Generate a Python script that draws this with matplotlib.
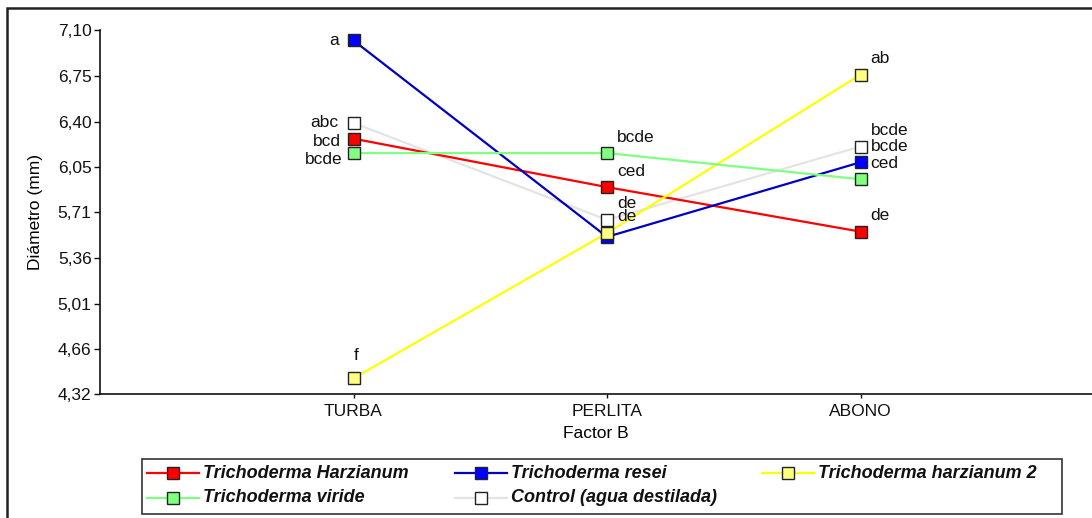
import matplotlib
matplotlib.use("Agg")
import matplotlib.pyplot as plt
from matplotlib.patches import Rectangle
from matplotlib.lines import Line2D

plt.rcParams['font.family'] = ['Liberation Sans', 'DejaVu Sans']

categories = ["TURBA", "PERLITA", "ABONO"]
series_names = ["Trichoderma Harzianum", "Trichoderma resei", "Trichoderma harzianum 2",
                "Trichoderma viride", "Control (agua destilada)"]
harzianum = [6.27, 5.90, 5.56]
resei = [7.02, 5.52, 6.09]
harzianum2 = [4.44, 5.55, 6.76]
viride = [6.16, 6.16, 5.96]
control = [6.39, 5.65, 6.21]
letters_harzianum = ["bcd", "ced", "de"]
letters_resei = ["a", "", "bcde"]
letters_harzianum2 = ["f", "de", "ab"]
letters_viride = ["bcde", "bcde", "ced"]
letters_control = ["abc", "de", "bcde"]
yticks = [4.32, 4.66, 5.01, 5.36, 5.71, 6.05, 6.40, 6.75, 7.10]
xlabel = "Factor B"
ylabel = "Diámetro (mm)"

values = [harzianum, resei, harzianum2, viride, control]
letters = [letters_harzianum, letters_resei, letters_harzianum2, letters_viride, letters_control]
line_colors = ["#FF0000", "#0000C0", "#FFFF00", "#80FF80", "#E4E4E4"]
face_colors = ["#FF0000", "#0000FF", "#FFFF80", "#80FF80", "#FFFFFF"]
# pixel offsets for TURBA labels (left side), per series
turba_off = [(-13, -3, 'right'), (-15, 0, 'right'), (3, 23, 'center'), (-11, -6, 'right'), (-15, 0, 'right')]

FS = 12.5
W, H = 1092, 518
fig = plt.figure(figsize=(W / 100, H / 100), dpi=100)
ax = fig.add_axes([100 / W, 1 - 394 / H, 1 - 100 / W, 364 / H])
x = list(range(1, len(categories) + 1))
for i in range(len(values)):
    ax.plot(x, values[i], color=line_colors[i], lw=1.6, marker='s', markersize=9,
            markerfacecolor=face_colors[i], markeredgecolor='#222222', markeredgewidth=1.0,
            zorder=3 + i * 0.1, clip_on=False)
ax.lines[4].set_zorder(2.5)

px = 0.72
for i in range(len(values)):
    for j in range(len(categories)):
        lab = letters[i][j]
        if not lab:
            continue
        if j == 0:
            dx, dy, ha = turba_off[i]
        else:
            dx, dy, ha = 10, 16, 'left'
        ax.annotate(lab, (x[j], values[i][j]), xytext=(dx * px, dy * px), textcoords='offset points',
                    ha=ha, va='center', fontsize=FS, color='#111111', zorder=6)

ax.set_xlim(0, (W - 100) / 253.5)
ax.set_ylim(yticks[0], yticks[-1])
ax.set_yticks(yticks)
ax.set_yticklabels([f"{v:.2f}".replace('.', ',') for v in yticks], fontsize=FS)
ax.set_xticks(x)
ax.set_xticklabels(categories, fontsize=FS)
ax.tick_params(axis='both', direction='out', length=4, width=1, colors='#111111', pad=2)
ax.tick_params(axis='x', length=3, pad=4)
for s in ['top', 'right']:
    ax.spines[s].set_visible(False)
for s in ['left', 'bottom']:
    ax.spines[s].set_linewidth(1.2)
    ax.spines[s].set_color('#111111')
ax.set_xlabel(xlabel, fontsize=FS, labelpad=5)
ax.set_ylabel(ylabel, fontsize=FS, labelpad=11)

# outer frame
fig.add_artist(Rectangle((7 / W, -0.1), 1.2, 1 - 8 / H + 0.1, transform=fig.transFigure,
                         fill=False, edgecolor='#222222', lw=1.8))

# legend box
lx0, lx1, ly0, ly1 = 142, 1062, 459, 514
fig.add_artist(Rectangle((lx0 / W, 1 - ly1 / H), (lx1 - lx0) / W, (ly1 - ly0) / H,
                         transform=fig.transFigure, fill=False, edgecolor='#333333', lw=1.2))
leg_pos = [(147, 473), (455, 473), (762, 473), (147, 498), (455, 498)]
for i, (hx, hy) in enumerate(leg_pos):
    yy = 1 - hy / H
    fig.add_artist(Line2D([hx / W, (hx + 52) / W], [yy, yy], transform=fig.transFigure,
                          color=line_colors[i], lw=1.6))
    fig.add_artist(Line2D([(hx + 26) / W], [yy], transform=fig.transFigure, marker='s',
                          markersize=9, markerfacecolor=face_colors[i], markeredgecolor='#222222',
                          markeredgewidth=1.0, lw=0))
    fig.text((hx + 56) / W, yy, series_names[i], fontsize=13, fontweight='bold', fontstyle='italic',
             va='center', ha='left', color='#111111')

fig.savefig("out.png", dpi=100)
